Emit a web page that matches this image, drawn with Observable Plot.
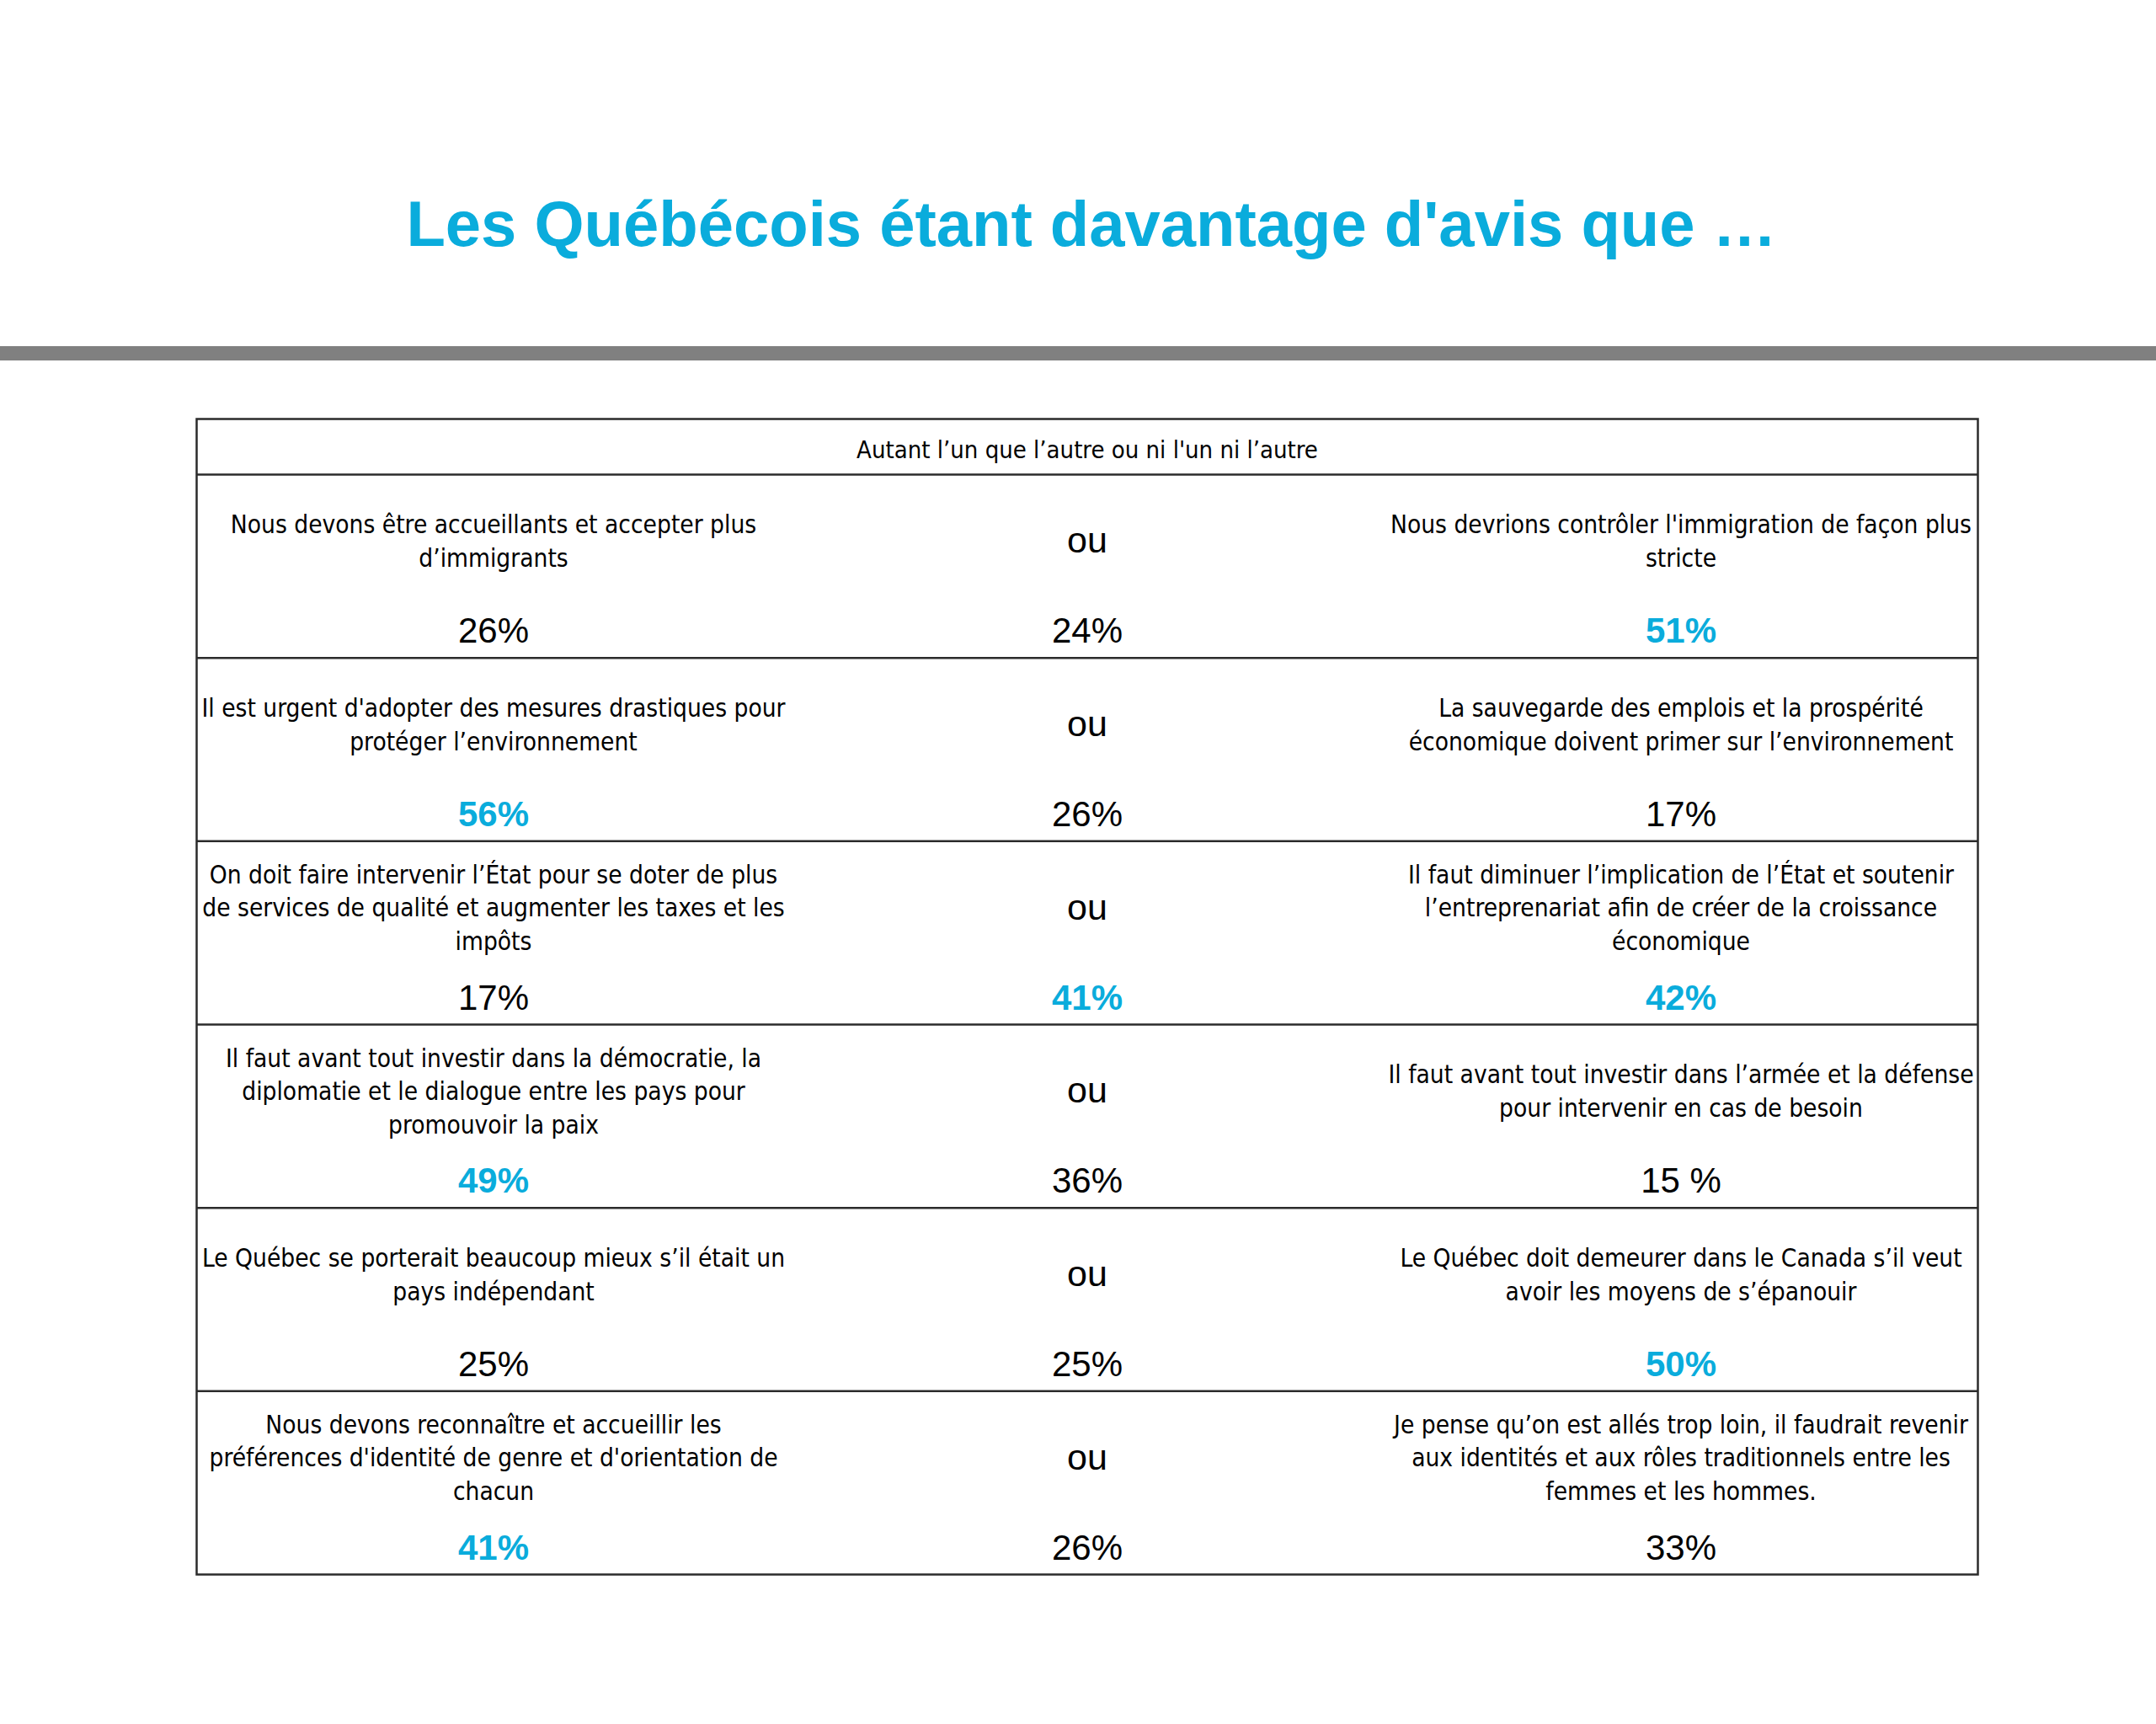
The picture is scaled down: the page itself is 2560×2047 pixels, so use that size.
<!DOCTYPE html>
<html lang="fr">
<head>
<meta charset="utf-8">
<script src="https://cdn.jsdelivr.net/npm/d3@7"></script>
<script src="https://cdn.jsdelivr.net/npm/@observablehq/plot@0.6"></script>
<style>
html, body { margin: 0; padding: 0; background: #fff; }
#page { position: relative; width: 2560px; height: 2047px; overflow: hidden; background: #fff; }
#title { position: absolute; left: 0; top: 228px; width: 2560px; padding-left: 32px; box-sizing: border-box;
  text-align: center; font-family: "Liberation Sans", Arial, sans-serif; font-weight: bold; font-size: 76px;
  line-height: 1; color: #0AACDC; white-space: nowrap; }
#rule { position: absolute; left: 0; top: 411px; width: 2560px; height: 17px; background: #808080; }
#chart { position: absolute; left: 0; top: 440px; }
</style>
</head>
<body>
<div id="page">
  <div id="title"></div>
  <div id="rule"></div>
  <div id="chart"></div>
</div>
<script>
// ---- Data ----
const titleText = "Les Québécois étant davantage d'avis que …";
const headerLabel = "Autant l’un que l’autre ou ni l'un ni l’autre";
const columns = ["gauche", "centre", "droite"];
const separatorLabel = "ou";

const leftStatements = [
  "Nous devons être accueillants et accepter plus\nd’immigrants",
  "Il est urgent d'adopter des mesures drastiques pour\nprotéger l’environnement",
  "On doit faire intervenir l’État pour se doter de plus\nde services de qualité et augmenter les taxes et les\nimpôts",
  "Il faut avant tout investir dans la démocratie, la\ndiplomatie et le dialogue entre les pays pour\npromouvoir la paix",
  "Le Québec se porterait beaucoup mieux s’il était un\npays indépendant",
  "Nous devons reconnaître et accueillir les\npréférences d'identité de genre et d'orientation de\nchacun"
];
const rightStatements = [
  "Nous devrions contrôler l'immigration de façon plus\nstricte",
  "La sauvegarde des emplois et la prospérité\néconomique doivent primer sur l’environnement",
  "Il faut diminuer l’implication de l’État et soutenir\nl’entreprenariat afin de créer de la croissance\néconomique",
  "Il faut avant tout investir dans l’armée et la défense\npour intervenir en cas de besoin",
  "Le Québec doit demeurer dans le Canada s’il veut\navoir les moyens de s’épanouir",
  "Je pense qu’on est allés trop loin, il faudrait revenir\naux identités et aux rôles traditionnels entre les\nfemmes et les hommes."
];
const leftValues = [26, 56, 17, 49, 25, 41];
const middleValues = [24, 26, 41, 36, 25, 26];
const rightValues = [51, 17, 42, 15, 50, 33];
const rightLabels = ["51%", "17%", "42%", "15 %", "50%", "33%"];
const highlighted = [["droite"], ["gauche"], ["centre", "droite"], ["gauche"], ["droite"], ["gauche"]];

// ---- Styles ----
const cyan = "#0AACDC";
const lineColor = "#2b2b2b";
const narrowFont = "'Liberation Sans Narrow', 'Arial Narrow', 'DejaVu Sans Condensed', sans-serif";
const numFont = "'Liberation Sans', Arial, sans-serif";
const rowPx = 217.67, headerPx = 66;

document.getElementById("title").textContent = titleText;

// ---- Build tables ----
const rows = d3.range(leftStatements.length);
const statements = rows.flatMap(i => [
  {row: i, col: "gauche", text: leftStatements[i]},
  {row: i, col: "droite", text: rightStatements[i]}
]);
const cells = rows.flatMap(i => [
  {row: i, col: "gauche", value: leftValues[i], label: `${leftValues[i]}%`},
  {row: i, col: "centre", value: middleValues[i], label: `${middleValues[i]}%`},
  {row: i, col: "droite", value: rightValues[i], label: rightLabels[i]}
]).map(d => ({...d, bold: highlighted[d.row].includes(d.col)}));

const chart = Plot.plot({
  width: 2560,
  height: 1607,
  marginLeft: 233,
  marginRight: 212,
  marginTop: 57,
  marginBottom: 178,
  x: {type: "band", domain: columns, padding: 0, axis: null},
  y: {type: "linear", domain: [-headerPx / rowPx, rows.length], reverse: true, axis: null},
  style: {background: "transparent"},
  marks: [
    Plot.ruleY(rows, {stroke: lineColor, strokeWidth: 2.5}),
    Plot.frame({stroke: lineColor, strokeWidth: 2.5}),
    Plot.text([headerLabel], {frameAnchor: "top", dy: 46, lineAnchor: "bottom", fontSize: 29,
      fontFamily: narrowFont, fill: "#000"}),
    Plot.text(statements, {x: "col", y: "row", text: "text", dy: 77, lineAnchor: "middle",
      fontSize: 29.6, lineHeight: 39.5 / 29.6, fontFamily: narrowFont, fill: "#000"}),
    Plot.text(rows, {x: () => "centre", y: d => d, text: () => separatorLabel, dy: 93, lineAnchor: "bottom",
      fontSize: 43, fontFamily: numFont, fill: "#000"}),
    Plot.text(cells.filter(d => !d.bold), {x: "col", y: "row", text: "label", dy: 200, lineAnchor: "bottom",
      fontSize: 42, fontFamily: numFont, fill: "#000"}),
    Plot.text(cells.filter(d => d.bold), {x: "col", y: "row", text: "label", dy: 200, lineAnchor: "bottom",
      fontSize: 42, fontFamily: numFont, fontWeight: "bold", fill: cyan})
  ]
});
document.getElementById("chart").appendChild(chart);
</script>
</body>
</html>
